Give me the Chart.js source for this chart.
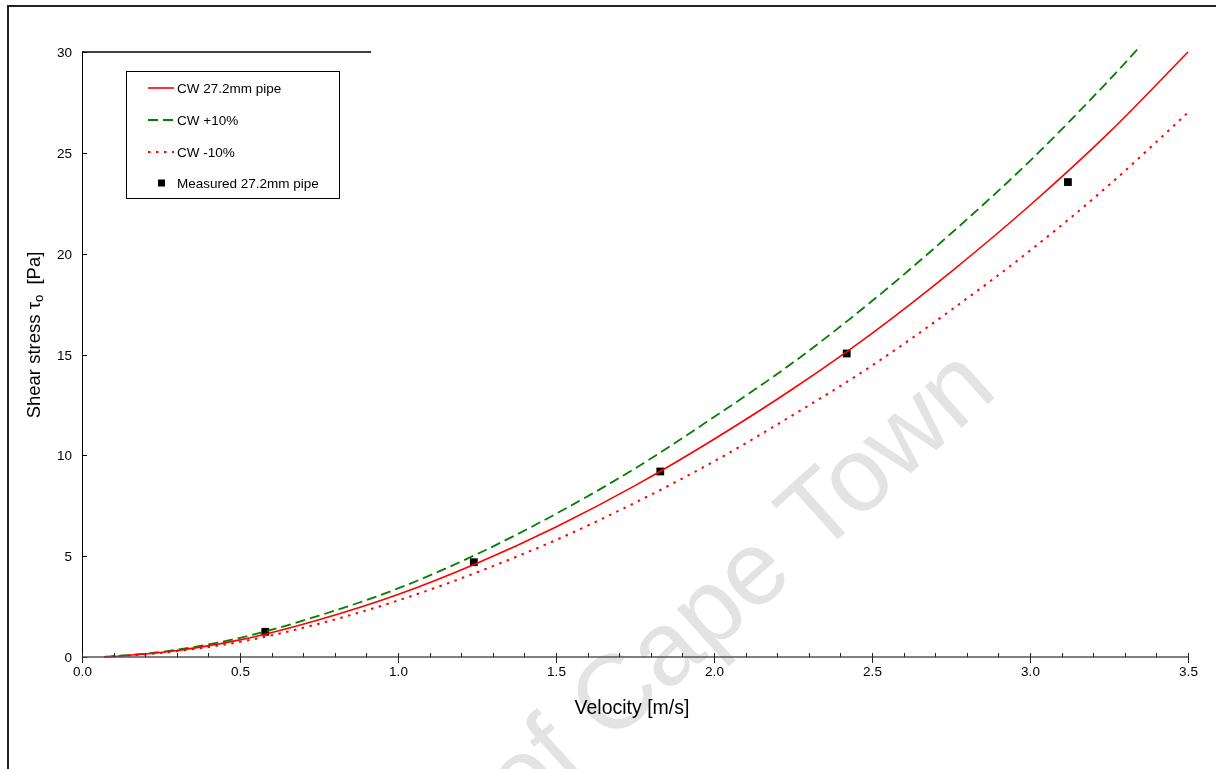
<!DOCTYPE html>
<html>
<head>
<meta charset="utf-8">
<title>Shear stress vs velocity</title>
<script src="https://cdn.jsdelivr.net/npm/chart.js@4/dist/chart.umd.min.js"></script>
<style>
html, body { margin: 0; padding: 0; background: #fff; overflow: hidden; }
#wrap { position: relative; width: 1216px; height: 769px; }
#frame { position: absolute; left: 7px; top: 5px; width: 1300px; height: 900px;
         border-left: 2px solid #222; border-top: 2px solid #222; pointer-events: none; }
</style>
</head>
<body>
<div id="wrap">
  <canvas id="shearChart" width="1216" height="769"></canvas>
  <div id="frame"></div>
</div>
<script>
//---------------data
var velocityCW = [0.07, 0.25, 0.5, 0.75, 1.0, 1.25, 1.5, 1.75, 2.0, 2.25, 2.5, 2.75, 3.0, 3.25, 3.5];
var stressCW = [0, 0.22, 0.85, 1.85, 3.1, 4.65, 6.45, 8.5, 10.8, 13.3, 16.05, 19.1, 22.4, 26.0, 30.0];

var velocityPlus = [0.07, 0.25, 0.5, 0.75, 1.0, 1.25, 1.5, 1.75, 2.0, 2.25, 2.5, 2.75, 3.0, 3.25, 3.35];
var stressPlus = [0, 0.25, 0.95, 2.05, 3.4, 5.1, 7.1, 9.35, 11.9, 14.6, 17.65, 21.0, 24.6, 28.6, 30.3];

var velocityMinus = [0.07, 0.25, 0.5, 0.75, 1.0, 1.25, 1.5, 1.75, 2.0, 2.25, 2.5, 2.75, 3.0, 3.25, 3.5];
var stressMinus = [0, 0.2, 0.75, 1.65, 2.8, 4.2, 5.8, 7.65, 9.7, 12.0, 14.45, 17.2, 20.15, 23.4, 27.0];

var measuredVelocity = [0.58, 1.24, 1.83, 2.42, 3.12];
var measuredStress = [1.25, 4.7, 9.2, 15.05, 23.55];

var xTicks = [0, 0.5, 1.0, 1.5, 2.0, 2.5, 3.0, 3.5];
var yTicks = [0, 5, 10, 15, 20, 25, 30];
var topBorderEnd = 0.915; // the short top frame line stops here (m/s)

//---------------helpers
var FONT = '"Liberation Sans", Arial, sans-serif';
var red = 'rgb(255, 0, 0)';
var green = 'rgb(0, 128, 0)';

function toPoints(xs, ys) {
  return xs.map(function (v, i) { return { x: v, y: ys[i] }; });
}

function seg(ctx, x1, y1, x2, y2) {
  ctx.beginPath();
  ctx.moveTo(x1, y1);
  ctx.lineTo(x2, y2);
  ctx.stroke();
}

//---------------axes, legend, watermark
var chartDecor = {
  id: 'chartDecor',
  beforeDatasetsDraw: function (chart) {
    var ctx = chart.ctx;
    ctx.save();
    ctx.font = '105px ' + FONT;
    ctx.fillStyle = '#e3e3e3';
    ctx.textBaseline = 'middle';
    ctx.translate(618, 698);
    ctx.rotate(-42 * Math.PI / 180);
    var lead = ctx.measureText('University of ').width + ctx.measureText('C').width / 2;
    ctx.fillText('University of Cape Town', -lead, 0);
    ctx.restore();
  },
  afterDatasetsDraw: function (chart) {
    var ctx = chart.ctx;
    var a = chart.chartArea;
    var x = chart.scales.x, y = chart.scales.y;
    ctx.save();

    // y axis and the short top line
    ctx.strokeStyle = '#000';
    ctx.lineWidth = 1;
    seg(ctx, a.left + 0.5, a.top, a.left + 0.5, a.bottom);
    ctx.lineWidth = 1.5;
    seg(ctx, a.left, a.top, x.getPixelForValue(topBorderEnd), a.top);

    // y ticks
    ctx.lineWidth = 1;
    ctx.fillStyle = '#000';
    ctx.font = '13.5px ' + FONT;
    ctx.textAlign = 'right';
    ctx.textBaseline = 'middle';
    yTicks.forEach(function (v) {
      var py = Math.round(y.getPixelForValue(v)) + 0.5;
      seg(ctx, a.left, py, a.left + 5, py);
      ctx.fillText(String(v), a.left - 10, py + 1);
    });

    // x axis
    ctx.strokeStyle = '#555';
    ctx.lineWidth = 1.5;
    seg(ctx, a.left, a.bottom, a.right, a.bottom);
    ctx.strokeStyle = '#222';
    ctx.lineWidth = 1;
    for (var m = 1; m < 35; m++) {
      if (m % 5 === 0) continue;
      var mx = Math.round(x.getPixelForValue(m / 10)) + 0.5;
      seg(ctx, mx, a.bottom - 4, mx, a.bottom);
    }
    ctx.textAlign = 'center';
    xTicks.forEach(function (v) {
      var px = Math.round(x.getPixelForValue(v)) + 0.5;
      seg(ctx, px, a.bottom - 4, px, a.bottom + 6);
      ctx.fillText(v.toFixed(1), px, a.bottom + 15);
    });

    // axis titles
    ctx.font = '19.5px ' + FONT;
    ctx.fillText('Velocity [m/s]', 632, 709);

    ctx.save();
    ctx.translate(35, 335);
    ctx.rotate(-Math.PI / 2);
    ctx.textAlign = 'left';
    var mainFont = '18.5px ' + FONT, subFont = '13px ' + FONT;
    ctx.font = mainFont;
    var w1 = ctx.measureText('Shear stress \u03c4').width;
    var w3 = ctx.measureText('  [Pa]').width;
    ctx.font = subFont;
    var w2 = ctx.measureText('o').width;
    var cx = -(w1 + w2 + w3) / 2;
    ctx.font = mainFont;
    ctx.fillText('Shear stress \u03c4', cx, 0);
    ctx.font = subFont;
    ctx.fillText('o', cx + w1, 4);
    ctx.font = mainFont;
    ctx.fillText('  [Pa]', cx + w1 + w2, 0);
    ctx.restore();

    // legend box
    ctx.strokeStyle = '#000';
    ctx.lineWidth = 1;
    ctx.strokeRect(126.5, 71.5, 213, 127);
    ctx.font = '13.5px ' + FONT;
    ctx.textAlign = 'left';
    var rows = [88, 120, 152, 183];
    chart.data.datasets.forEach(function (ds, i) {
      var ry = rows[i];
      if (ds.showLine) {
        ctx.strokeStyle = ds.borderColor;
        ctx.lineWidth = ds.borderWidth;
        ctx.setLineDash(ds.borderDash || []);
        seg(ctx, 148, ry, 174, ry);
        ctx.setLineDash([]);
      } else {
        ctx.fillStyle = ds.backgroundColor;
        ctx.fillRect(158, ry - 3.5, 7, 7);
      }
      ctx.fillStyle = '#000';
      ctx.fillText(ds.label, 177, ry + 1);
    });

    ctx.restore();
  }
};

//---------------chart
new Chart(
  document.getElementById('shearChart'), {
    type: 'scatter',
    data: {
      datasets: [{
        label: 'CW 27.2mm pipe',
        data: toPoints(velocityCW, stressCW),
        showLine: true,
        borderColor: red,
        borderWidth: 1.6,
        pointRadius: 0,
        cubicInterpolationMode: 'monotone',
        clip: false
      }, {
        label: 'CW +10%',
        data: toPoints(velocityPlus, stressPlus),
        showLine: true,
        borderColor: green,
        borderWidth: 1.8,
        borderDash: [10, 5],
        pointRadius: 0,
        cubicInterpolationMode: 'monotone',
        clip: false
      }, {
        label: 'CW -10%',
        data: toPoints(velocityMinus, stressMinus),
        showLine: true,
        borderColor: red,
        borderWidth: 2,
        borderDash: [2.5, 5.5],
        pointRadius: 0,
        cubicInterpolationMode: 'monotone',
        clip: false
      }, {
        label: 'Measured 27.2mm pipe',
        data: toPoints(measuredVelocity, measuredStress),
        showLine: false,
        pointStyle: 'rect',
        pointRadius: 5.5,
        borderWidth: 0,
        backgroundColor: '#000',
        borderColor: '#000'
      }]
    },
    options: {
      responsive: false,
      animation: false,
      layout: { padding: { left: 82, right: 28, top: 52, bottom: 112 } },
      scales: {
        x: { type: 'linear', min: 0, max: 3.5, display: false },
        y: { type: 'linear', min: 0, max: 30, display: false }
      },
      plugins: {
        legend: { display: false },
        tooltip: { enabled: false }
      }
    },
    plugins: [chartDecor]
  }
);
</script>
</body>
</html>
